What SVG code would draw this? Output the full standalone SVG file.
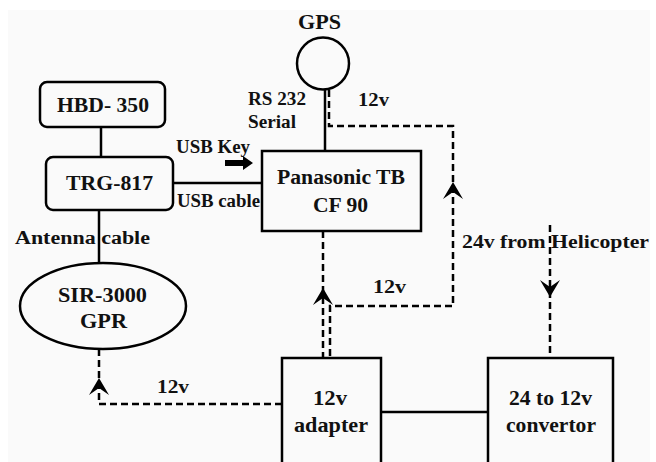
<svg xmlns="http://www.w3.org/2000/svg" width="656" height="462" viewBox="0 0 656 462">
<style>
.s{fill:none;stroke:#000;stroke-width:2.5}
.d{fill:none;stroke:#000;stroke-width:2.5;stroke-dasharray:7 4}
.t{font-family:"Liberation Serif","Times New Roman",serif;font-weight:bold;fill:#111}
.b{font-size:20px}
.l{font-size:18px}
</style>
<defs>
<path id="ah" d="M0,0 L10,17 L0,10 L-10,17 Z" fill="#000"/>
</defs>
<rect x="0" y="0" width="656" height="462" fill="#fff"/>
<rect x="8" y="10" width="642" height="452" fill="#fafafa"/>
<g id="connectors">
<line class="s" x1="101" y1="127" x2="101" y2="157"/>
<line class="s" x1="99" y1="210" x2="99" y2="263"/>
<line class="s" x1="173" y1="183" x2="262" y2="183"/>
<line class="s" x1="325" y1="90" x2="325" y2="151"/>
<line class="s" x1="381" y1="412" x2="488" y2="412"/>
<polyline class="d" points="329,90 329,126 453,126 453,306 330,306 330,357"/>
<line class="d" x1="323" y1="231" x2="323" y2="357"/>
<line class="d" x1="550" y1="225" x2="550" y2="357"/>
<polyline class="d" points="282,404 99,404 99,350"/>
<use href="#ah" x="323" y="288"/>
<use href="#ah" x="453" y="182"/>
<use href="#ah" x="99" y="378"/>
<use href="#ah" transform="translate(550,297) rotate(180)"/>
<path d="M225,160 L243,160 L243,156 L253,163 L243,170 L243,166 L225,166 Z" fill="#000"/>
</g>
<g id="hbd">
<rect class="s" x="40" y="82" width="125" height="45" rx="7"/>
<text class="t b" x="57" y="112" textLength="92" lengthAdjust="spacingAndGlyphs">HBD- 350</text>
</g>
<g id="trg">
<rect class="s" x="46" y="157" width="127" height="53" rx="7"/>
<text class="t b" x="66" y="190" textLength="87" lengthAdjust="spacingAndGlyphs">TRG-817</text>
</g>
<g id="sir">
<ellipse class="s" cx="103" cy="306" rx="83" ry="43"/>
<text class="t b" x="58" y="302" textLength="89" lengthAdjust="spacingAndGlyphs">SIR-3000</text>
<text class="t b" x="80" y="328" textLength="47" lengthAdjust="spacingAndGlyphs">GPR</text>
</g>
<g id="gps">
<circle class="s" cx="323" cy="63.5" r="26"/>
<text class="t b" x="298" y="29" textLength="43" lengthAdjust="spacingAndGlyphs">GPS</text>
</g>
<g id="panasonic">
<rect class="s" x="262" y="151" width="159" height="80"/>
<text class="t b" x="277" y="184" textLength="128" lengthAdjust="spacingAndGlyphs">Panasonic TB</text>
<text class="t b" x="313" y="212" textLength="55" lengthAdjust="spacingAndGlyphs">CF 90</text>
</g>
<g id="adapter">
<path class="s" d="M282,464 L282,358 L381,358 L381,464"/>
<text class="t b" x="313" y="405" textLength="34" lengthAdjust="spacingAndGlyphs">12v</text>
<text class="t b" x="294" y="432" textLength="74" lengthAdjust="spacingAndGlyphs">adapter</text>
</g>
<g id="convertor">
<path class="s" d="M488,464 L488,358 L613,358 L613,464"/>
<text class="t b" x="509" y="405" textLength="83" lengthAdjust="spacingAndGlyphs">24 to 12v</text>
<text class="t b" x="506" y="432" textLength="90" lengthAdjust="spacingAndGlyphs">convertor</text>
</g>
<g id="labels">
<text class="t l" x="15" y="244" textLength="135" lengthAdjust="spacingAndGlyphs">Antenna cable</text>
<text class="t l" x="176" y="153" textLength="74" lengthAdjust="spacingAndGlyphs">USB Key</text>
<text class="t l" x="177" y="207" textLength="83" lengthAdjust="spacingAndGlyphs">USB cable</text>
<text class="t l" x="248" y="105" textLength="58" lengthAdjust="spacingAndGlyphs">RS 232</text>
<text class="t l" x="248" y="128" textLength="48" lengthAdjust="spacingAndGlyphs">Serial</text>
<text class="t l" x="358" y="106" textLength="31" lengthAdjust="spacingAndGlyphs">12v</text>
<text class="t l" x="373" y="293" textLength="33" lengthAdjust="spacingAndGlyphs">12v</text>
<text class="t l" x="157" y="393" textLength="32" lengthAdjust="spacingAndGlyphs">12v</text>
<text class="t l" x="462" y="248" textLength="187" lengthAdjust="spacingAndGlyphs">24v from Helicopter</text>
</g>
</svg>
